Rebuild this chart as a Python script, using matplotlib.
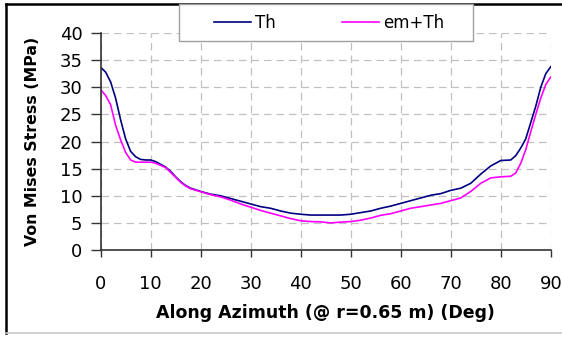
import matplotlib
matplotlib.use('Agg')
import matplotlib.pyplot as plt
from matplotlib.patches import Rectangle
from matplotlib.lines import Line2D

plt.rcParams['font.family'] = ['DejaVu Sans']

# angle along azimuth (deg)
deg = [0, 1, 2, 3, 4, 5, 6, 7, 8, 9, 10, 11, 12, 13, 14, 15, 16, 17, 18,
       20, 22, 24, 26, 28, 30, 32, 34, 36, 38, 40, 42, 44, 46, 48, 50,
       52, 54, 56, 58, 60, 62, 64, 66, 68, 70, 72, 74, 76, 78, 80, 82,
       83, 84, 85, 86, 87, 88, 89, 90]

# von mises stress (MPa)
th = [33.7, 32.8, 31.0, 28.0, 24.0, 20.5, 18.2, 17.2, 16.7, 16.6, 16.6, 16.3,
      15.8, 15.3, 14.5, 13.5, 12.6, 11.9, 11.4,
      10.8, 10.3, 10.0, 9.5, 9.0, 8.5, 8.0, 7.7, 7.2, 6.8, 6.6, 6.45, 6.45,
      6.45, 6.45, 6.6, 6.9, 7.2, 7.7, 8.1, 8.6, 9.1, 9.6, 10.1, 10.4, 11.0,
      11.4, 12.3, 14.0, 15.5, 16.5, 16.6,
      17.4, 18.8, 20.5, 23.5, 26.5, 30.0, 32.5, 33.8]

em_th = [29.6, 28.5, 26.8, 23.0, 20.3, 18.0, 16.6, 16.2, 16.2, 16.2, 16.2, 16.0,
         15.6, 15.2, 14.3, 13.4, 12.5, 11.8, 11.3,
         10.75, 10.2, 9.8, 9.2, 8.5, 7.9, 7.3, 6.8, 6.3, 5.8, 5.4, 5.25, 5.2,
         5.0, 5.15, 5.25, 5.5, 5.9, 6.4, 6.7, 7.2, 7.7, 8.0, 8.3, 8.6, 9.1,
         9.6, 10.8, 12.3, 13.3, 13.5, 13.6,
         14.2, 16.0, 18.5, 21.8, 25.0, 28.0, 30.5, 31.9]

fig = plt.figure(figsize=(5.62, 3.37), dpi=100)
ax = fig.add_axes([0.179, 0.258, 0.801, 0.644])

ax.plot(deg, th, color='#000080', lw=1.2, label='Th')
ax.plot(deg, em_th, color='#ff00ff', lw=1.2, label='em+Th')

ax.set_xlim(0, 90)
ax.set_ylim(0, 40)
ax.set_xticks(range(0, 91, 10))
ax.set_yticks(range(0, 41, 5))
ax.grid(True, color='#c0c0c0', linestyle=(0, (6, 4)), lw=0.9)
ax.tick_params(axis='x', direction='out', length=5, width=1, labelsize=13, pad=13, colors='#333333', labelcolor='black')
ax.tick_params(axis='y', direction='out', length=7, width=1, labelsize=13, pad=6, colors='#333333', labelcolor='black')
for s in ['top', 'right']:
    ax.spines[s].set_visible(False)
for s in ['left', 'bottom']:
    ax.spines[s].set_color('#333333')
    ax.spines[s].set_linewidth(1.2)

ax.set_xlabel('Along Azimuth (@ r=0.65 m) (Deg)', fontsize=12.5, fontweight='bold', labelpad=8)
ax.set_ylabel('Von Mises Stress (MPa)', fontsize=11.3, fontweight='bold', labelpad=14)

# legend box
fig.patches.append(Rectangle((0.318, 0.878), 0.524, 0.110, transform=fig.transFigure,
                             facecolor='white', edgecolor='#a0a0a0', lw=1, zorder=5))
leg = fig.legend(loc='center left', bbox_to_anchor=(0.381, 0.931), ncol=2, frameon=False,
                 fontsize=12, handlelength=2.2, handletextpad=0.25, columnspacing=4.0,
                 borderpad=0, borderaxespad=0)
leg.set_zorder(6)

# outer frame
fig.add_artist(Line2D([0.011, 1.0], [0.988, 0.988], color='black', lw=1.8, transform=fig.transFigure))
fig.add_artist(Line2D([0.011, 0.011], [0.012, 0.988], color='black', lw=1.8, transform=fig.transFigure))
fig.add_artist(Line2D([0.011, 1.0], [0.012, 0.012], color='#c8c8c8', lw=1.2, transform=fig.transFigure))

fig.savefig('out.png', dpi=100)
